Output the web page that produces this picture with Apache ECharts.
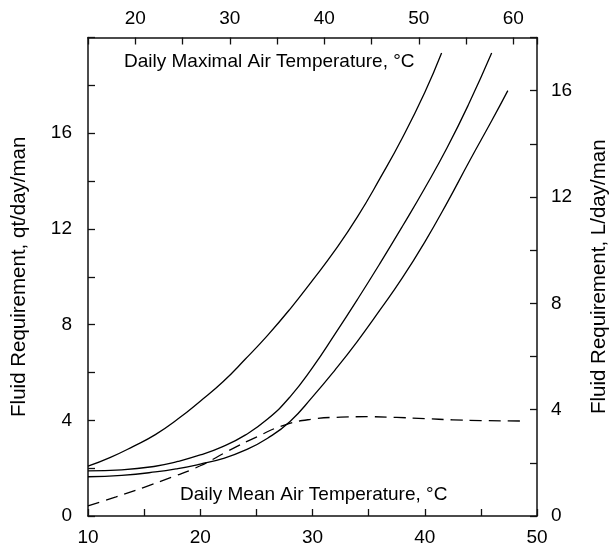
<!DOCTYPE html>
<html>
<head>
<meta charset="utf-8">
<script src="https://cdn.jsdelivr.net/npm/echarts@6/dist/echarts.min.js"></script>
<style>
html,body{margin:0;padding:0;background:#fff;overflow:hidden;}
#chart{width:610px;height:547px;}
</style>
</head>
<body>
<div id="chart"></div>
<script>
// Daily mean air temperature (°C, bottom axis) vs fluid requirement (qt/day/man, left axis)
const curveA_x = [10, 12, 14, 16, 18, 20, 22, 24, 26, 28, 30, 32, 34, 36, 38, 40, 41.5];
const curveA_y = [2.08, 2.45, 2.9, 3.4, 4.05, 4.8, 5.6, 6.55, 7.55, 8.65, 9.85, 11.1, 12.5, 14.1, 15.8, 17.7, 19.35];

const curveB_x = [10, 13, 16, 18, 20, 22, 24, 26, 28, 30, 32, 34, 36, 38, 40, 42, 44, 45.96];
const curveB_y = [1.89, 1.93, 2.08, 2.28, 2.55, 2.9, 3.38, 4.05, 4.98, 6.2, 7.6, 9.05, 10.55, 12.1, 13.7, 15.4, 17.3, 19.35];

const curveC_x = [10, 13, 16, 18, 20, 22, 24, 26, 28, 30, 32, 34, 36, 38, 40, 42, 44, 46, 47.4];
const curveC_y = [1.64, 1.7, 1.84, 1.98, 2.17, 2.4, 2.75, 3.25, 3.95, 4.98, 6.1, 7.3, 8.6, 9.95, 11.45, 13.1, 14.85, 16.55, 17.78];

const dashed_x = [10, 12.5, 15, 17.5, 20, 22.5, 25, 27.5, 30, 32.5, 35, 37.5, 40, 42.5, 45, 48.5];
const dashed_y = [0.42, 0.8, 1.2, 1.63, 2.1, 2.72, 3.3, 3.8, 4.05, 4.13, 4.15, 4.12, 4.07, 4.02, 3.99, 3.97];

const leftLabels = [0, 4, 8, 12, 16];
const rightLabels = [0, 4, 8, 12, 16];
const bottomLabels = [10, 20, 30, 40, 50];
const topLabels = [20, 30, 40, 50, 60];

const leftName = 'Fluid Requirement, qt/day/man';
const rightName = 'Fluid Requirement, L/day/man';
const topText = 'Daily Maximal Air Temperature, °C';
const bottomText = 'Daily Mean Air Temperature, °C';

function zip(xs, ys) { return xs.map((x, i) => [x, ys[i]]); }

const FONT = '"Liberation Sans", Arial, Helvetica, sans-serif';
const axisLineStyle = { color: '#111', width: 1.5 };
const tick = { show: true, inside: true, length: 7, lineStyle: { color: '#111', width: 1.3 } };
const lbl = (list, margin) => ({
  margin: margin, fontSize: 19, color: '#000', fontFamily: FONT,
  showMinLabel: true, showMaxLabel: true,
  formatter: v => (list.indexOf(Math.round(v * 1000) / 1000) >= 0 ? String(v) : '')
});

const chart = echarts.init(document.getElementById('chart'), null, { renderer: 'canvas' });
const lineBase = { type: 'line', showSymbol: false, symbol: 'none', smooth: 0.5,
  xAxisIndex: 0, yAxisIndex: 0, animation: false };

chart.setOption({
  animation: false,
  backgroundColor: '#fff',
  grid: { left: 88, right: 73, top: 37.5, bottom: 31, containLabel: false, outerBoundsMode: 'none' },
  xAxis: [
    { type: 'value', position: 'bottom', min: 10, max: 50, interval: 5,
      axisLine: { show: true, onZero: false, lineStyle: axisLineStyle }, axisTick: tick,
      axisLabel: lbl(bottomLabels, 12), splitLine: { show: false } },
    { type: 'value', position: 'top', min: 15, max: 62.5, interval: 5,
      axisLine: { show: true, onZero: false, lineStyle: axisLineStyle }, axisTick: tick,
      axisLabel: lbl(topLabels, 9), splitLine: { show: false } }
  ],
  yAxis: [
    { type: 'value', position: 'left', min: 0, max: 20, interval: 2,
      axisLine: { show: true, onZero: false, lineStyle: axisLineStyle }, axisTick: tick,
      axisLabel: lbl(leftLabels, 16), splitLine: { show: false },
      name: leftName, nameLocation: 'middle', nameGap: 58,
      nameTextStyle: { fontSize: 20.5, color: '#000', fontFamily: FONT } },
    { type: 'value', position: 'right', min: 0, max: 18, interval: 2,
      axisLine: { show: true, onZero: false, lineStyle: axisLineStyle }, axisTick: tick,
      axisLabel: lbl(rightLabels, 14), splitLine: { show: false },
      name: rightName, nameLocation: 'middle', nameGap: 52,
      nameTextStyle: { fontSize: 20.5, color: '#000', fontFamily: FONT } }
  ],
  graphic: [
    { type: 'text', x: 124, y: 62, style: { text: topText, font: '19px ' + FONT, fill: '#000', textVerticalAlign: 'middle', verticalAlign: 'middle' } },
    { type: 'text', x: 180, y: 495, style: { text: bottomText, font: '19px ' + FONT, fill: '#000', textVerticalAlign: 'middle', verticalAlign: 'middle' } }
  ],
  series: [
    Object.assign({}, lineBase, { name: 'A', data: zip(curveA_x, curveA_y), lineStyle: { color: '#000', width: 1.3 } }),
    Object.assign({}, lineBase, { name: 'B', data: zip(curveB_x, curveB_y), lineStyle: { color: '#000', width: 1.3 } }),
    Object.assign({}, lineBase, { name: 'C', data: zip(curveC_x, curveC_y), lineStyle: { color: '#000', width: 1.3 } }),
    Object.assign({}, lineBase, { name: 'D', data: zip(dashed_x, dashed_y), lineStyle: { color: '#000', width: 1.3, type: [12, 7] } })
  ]
});
</script>
</body>
</html>
